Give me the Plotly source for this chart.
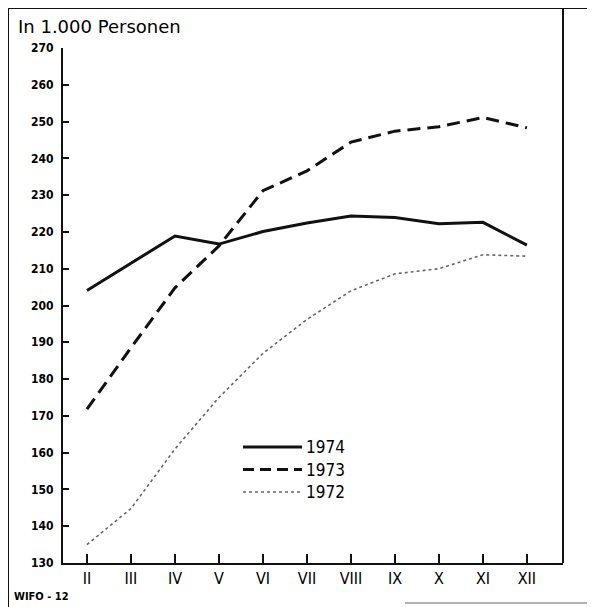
import plotly.graph_objects as go

# Monate (Februar bis Dezember), Werte in 1.000 Personen
months = ["II", "III", "IV", "V", "VI", "VII", "VIII", "IX", "X", "XI", "XII"]
tick_text = ["II", "III", "IV", "V", "VI", "VII", "VIII", "IX", "X", "XI", "XII"]
y_1974 = [204.1, 211.5, 218.9, 216.7, 220.1, 222.4, 224.3, 223.9, 222.2, 222.6, 216.4]
y_1973 = [171.8, 188.5, 204.8, 216.2, 231.2, 236.6, 244.4, 247.4, 248.6, 251.1, 248.3]
y_1972 = [135.0, 144.8, 161.0, 175.0, 187.0, 196.2, 204.0, 208.6, 210.0, 213.8, 213.4]
y_ticks = list(range(130, 271, 10))

x = list(range(len(months)))
font = "DejaVu Sans Condensed, Liberation Sans Narrow, Arial Narrow, sans-serif"
font_reg = "DejaVu Sans, sans-serif"

fig = go.Figure()
fig.add_trace(go.Scatter(x=x, y=y_1974, mode="lines", name="1974",
                         line=dict(color="#111", width=3)))
fig.add_trace(go.Scatter(x=x, y=y_1973, mode="lines", name="1973",
                         line=dict(color="#111", width=3, dash="13px,7px")))
fig.add_trace(go.Scatter(x=x, y=y_1972, mode="lines", name="1972",
                         line=dict(color="#666", width=1.6, dash="dot")))

# page body has an 8px margin, so the figure is 8px smaller
fig.update_layout(
    width=587, height=599,
    margin=dict(l=55, r=32, t=40, b=44),
    paper_bgcolor="white", plot_bgcolor="white",
    showlegend=False,
    font=dict(family=font, color="#000"),
    xaxis=dict(range=[-0.545, 10.82], tickvals=x, ticktext=tick_text,
               showgrid=False, zeroline=False, showline=True, linecolor="#111",
               linewidth=2, ticks="inside", ticklen=9, tickwidth=2, tickcolor="#111",
               tickfont=dict(size=16, family=font, color="#000"), fixedrange=True),
    yaxis=dict(range=[130, 270], tickvals=y_ticks,
               showgrid=False, zeroline=False, showline=True, linecolor="#111",
               linewidth=2, ticks="inside", ticklen=6, tickwidth=2, tickcolor="#111",
               tickfont=dict(size=12, family=font, weight="bold", color="#000"),
               ticklabelstandoff=5, fixedrange=True),
)


def px_x(p):
    return (p - 63) / 500


def px_y(p):
    return (563 - p) / 515


frame = dict(color="#111", width=2)
# äußerer Rahmen (oben, links, rechts bis zur Achse, unten nur teilweise)
fig.add_shape(type="line", xref="paper", yref="paper", x0=px_x(7), x1=px_x(600),
              y0=px_y(8), y1=px_y(8), line=frame)
fig.add_shape(type="line", xref="paper", yref="paper", x0=px_x(8), x1=px_x(8),
              y0=px_y(8), y1=px_y(610), line=frame)
fig.add_shape(type="line", xref="paper", yref="paper", x0=1, x1=1,
              y0=0, y1=px_y(8), line=frame)
fig.add_shape(type="line", xref="paper", yref="paper", x0=px_x(405), x1=px_x(600),
              y0=px_y(603), y1=px_y(603), line=dict(color="#999", width=1.5))

# Legende
legend_items = [("1974", dict(color="#111", width=3)),
                ("1973", dict(color="#111", width=3, dash="11px,6px")),
                ("1972", dict(color="#666", width=1.4, dash="dot"))]
for i, (label, ln) in enumerate(legend_items):
    yp = px_y(447 + i * 22.5)
    fig.add_shape(type="line", xref="paper", yref="paper", x0=px_x(243), x1=px_x(302),
                  y0=yp, y1=yp, line=ln)
    fig.add_annotation(xref="paper", yref="paper", x=px_x(304), y=yp,
                       text=label, showarrow=False, xanchor="left", yanchor="middle",
                       font=dict(size=17, family=font, color="#000"))

fig.add_annotation(xref="paper", yref="paper", x=px_x(16), y=px_y(26),
                   text="In 1.000 Personen", showarrow=False, xanchor="left",
                   yanchor="middle", font=dict(size=18, family=font_reg, color="#000"))
fig.add_annotation(xref="paper", yref="paper", x=px_x(12), y=px_y(596),
                   text="<b>WIFO - 12</b>", showarrow=False, xanchor="left",
                   yanchor="middle", font=dict(size=11, family=font, color="#000"))

fig.write_html("out.html")
